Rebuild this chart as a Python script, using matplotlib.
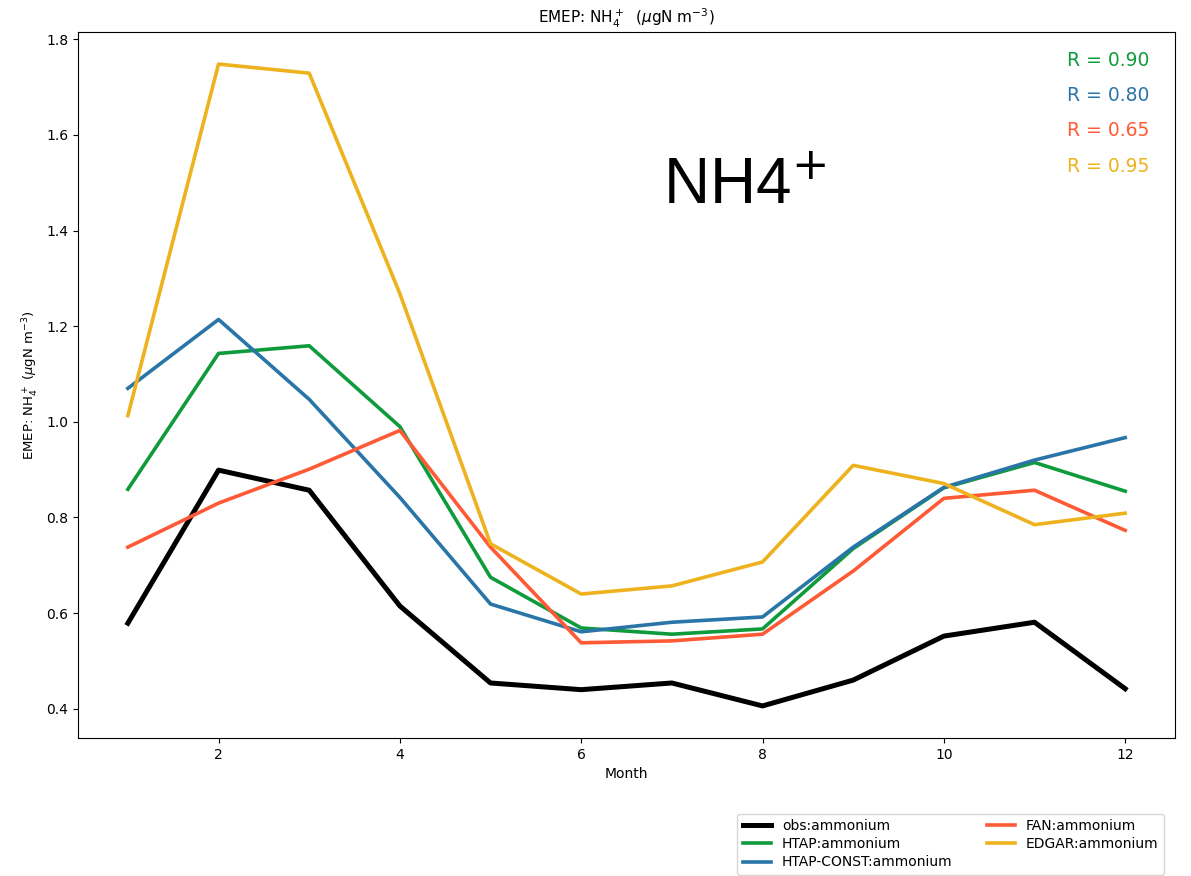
import matplotlib
matplotlib.use("Agg")
import matplotlib.pyplot as plt

months = list(range(1, 13))
obs = [0.579, 0.899, 0.857, 0.615, 0.454, 0.440, 0.454, 0.406, 0.460, 0.552, 0.581, 0.442]
htap = [0.859, 1.143, 1.159, 0.990, 0.675, 0.569, 0.556, 0.567, 0.735, 0.862, 0.915, 0.855]
htap_const = [1.070, 1.214, 1.047, 0.842, 0.619, 0.561, 0.581, 0.592, 0.738, 0.863, 0.920, 0.967]
fan = [0.738, 0.830, 0.901, 0.982, 0.738, 0.538, 0.542, 0.556, 0.688, 0.840, 0.857, 0.773]
edgar = [1.013, 1.748, 1.729, 1.268, 0.745, 0.640, 0.657, 0.707, 0.909, 0.871, 0.785, 0.809]

labels = ["obs:ammonium", "HTAP:ammonium", "HTAP-CONST:ammonium", "FAN:ammonium", "EDGAR:ammonium"]
colors = ["black", "#0f9b3c", "#2a75a8", "#ff5a36", "#edb21e"]
r_texts = ["R = 0.90", "R = 0.80", "R = 0.65", "R = 0.95"]

fig = plt.figure(figsize=(11.91, 8.76), dpi=100)
ax = fig.add_axes([0.0655, 0.1575, 0.9211, 0.806])

series = [obs, htap, htap_const, fan, edgar]
for i, (s, lab, c) in enumerate(zip(series, labels, colors)):
    ax.plot(months, s, color=c, lw=3.6 if i == 0 else 2.6, label=lab)

ax.set_xticks([2, 4, 6, 8, 10, 12])
ax.tick_params(labelsize=10)
ax.set_xlabel("Month", fontsize=10)
ax.set_ylabel(r"EMEP: NH$_4^+$ ($\mu$gN m$^{-3}$)", fontsize=9.5)
ax.set_title(r"EMEP: NH$_4^+$  ($\mu$gN m$^{-3}$)", fontsize=11)

for i, (t, c) in enumerate(zip(r_texts, colors[1:])):
    ax.text(0.977, 0.96 - i * 0.05, t, color=c, fontsize=13.5, ha="right", va="center",
            transform=ax.transAxes)

ax.text(0.533, 0.78, r"NH4$^{+}$", fontsize=46, ha="left", va="center",
        transform=ax.transAxes, family="Liberation Sans")

handles, labs = ax.get_legend_handles_labels()
fig.legend(handles, labs, ncol=2,
           loc="upper right", bbox_to_anchor=(0.981, 0.076), fontsize=10,
           columnspacing=2.5, labelspacing=0.3, borderaxespad=0.3)

fig.savefig("out.png", dpi=100)
